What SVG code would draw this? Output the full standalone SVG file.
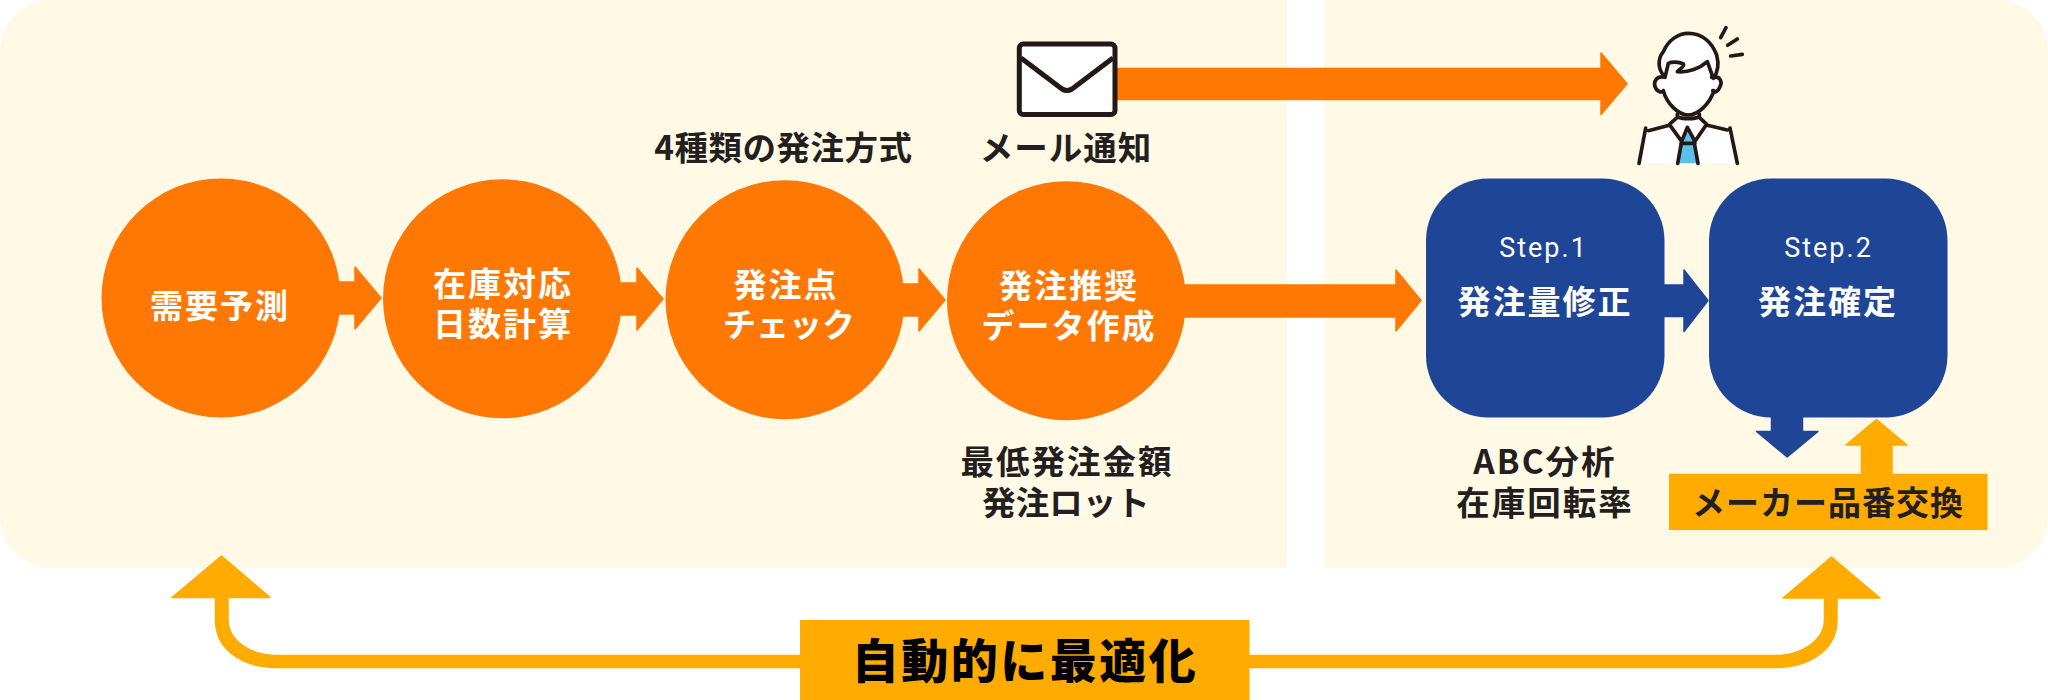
<svg xmlns="http://www.w3.org/2000/svg" width="2048" height="700" viewBox="0 0 2048 700">
<style>
text{font-family:"Noto Sans CJK JP","Noto Sans",sans-serif;font-weight:700;text-anchor:middle}
.w{fill:#fff;font-size:33px;letter-spacing:2px}
.d{fill:#231f20;font-size:33.500px;letter-spacing:2px}
.s{fill:#fff;font-family:Roboto,sans-serif;font-weight:400;font-size:27px;letter-spacing:2px}
.o{fill:#ff7804}.b{fill:#1f4696}.y{fill:#ffab00}
.conn path{stroke-width:1.5;stroke-linejoin:round}
.conn .o{stroke:#ff7804}.conn .b{stroke:#1f4696}.conn .y{stroke:#ffab00}
.ink{fill:none;stroke:#231815;stroke-width:11;stroke-linecap:round;stroke-linejoin:round}
</style>
<g id="panels">
<path fill="#fff9e6" d="M52,0H1287V568H52A52,52 0 0 1 0,516V52A52,52 0 0 1 52,0Z"/>
<path fill="#fff9e6" d="M1324,0H1996A52,52 0 0 1 2048,52V516A52,52 0 0 1 1996,568H1324Z"/>
</g>
<g id="connectors" class="conn">
<path class="o" d="M338,282H355V267L381,298L355,329V314H338Z"/>
<path class="o" d="M620,283H637V268L663,299L637,330V315H620Z"/>
<path class="o" d="M902,284H919V269L945,300L919,331V316H902Z"/>
<path class="o" d="M1180,285H1396V270L1421,300.500L1396,331V317H1180Z"/>
<path class="o" d="M1117,68.500H1601V53L1627,83.700L1601,114.500V99.500H1117Z"/>
<path class="b" d="M1660,285H1684V270L1708,300.500L1684,331.500V316.500H1660Z"/>
<path class="b" d="M1771.500,410H1802.500V431.500H1818L1787.200,457L1756.500,431.500H1771.500Z"/>
<path class="y" d="M1861.500,474V445H1846L1876.400,419.500L1907,445H1892V474Z"/>
<path class="y" d="M800,655.500H277C250,655.500 228,640 228,620V597.500H270L221.500,556L172,597.500H215.500V620C215.500,648 240,667.500 277,667.500H800Z"/>
<path class="y" d="M1249,655.500H1775C1802,655.500 1824.500,640 1824.500,620V598H1783L1831.500,557L1880,598H1837V620C1837,648 1812,667.500 1775,667.500H1249Z"/>
</g>
<g id="n-demand"><circle class="o" cx="221" cy="298" r="119.500"/><text class="w" x="220" y="318">需要予測</text></g>
<g id="n-stock"><circle class="o" cx="502.500" cy="298.800" r="119.500"/><text class="w" x="503" y="296">在庫対応</text><text class="w" x="503" y="336">日数計算</text></g>
<g id="n-check"><circle class="o" cx="785" cy="299.700" r="119.500"/><text class="w" x="786" y="297">発注点</text><text class="w" x="789" y="337" style="letter-spacing:0">チェック</text></g>
<g id="n-data"><circle class="o" cx="1066.500" cy="300.700" r="119.500"/><text class="w" x="1069" y="298">発注推奨</text><text class="w" x="1069" y="338">データ作成</text></g>
<g id="n-step1"><rect class="b" x="1426" y="178.500" width="238.500" height="239" rx="62"/><text class="s" x="1543.500" y="257">Step.1</text><text class="w" x="1545" y="314">発注量修正</text></g>
<g id="n-step2"><rect class="b" x="1709" y="178.500" width="238.500" height="239" rx="62"/><text class="s" x="1828.500" y="257">Step.2</text><text class="w" x="1828" y="314">発注確定</text></g>
<g id="n-maker"><rect class="y" x="1669" y="473.700" width="318.500" height="56.300"/><text class="d" x="1828" y="515" style="font-size:33px;letter-spacing:1px">メーカー品番交換</text></g>
<g id="n-auto"><rect class="y" x="800" y="620" width="449.500" height="80"/><text x="1025" y="678" fill="#000" style="font-size:47px;letter-spacing:2.500px;font-weight:900">自動的に最適化</text></g>
<g id="n-mail"><rect x="1019.300" y="44" width="95.700" height="70.500" rx="4" fill="#fff" stroke="#231815" stroke-width="5"/><path d="M1021,58L1062,89Q1067,92 1072,89L1113,58" fill="none" stroke="#231815" stroke-width="5" stroke-linejoin="round"/></g>
<g id="n-person" transform="translate(1600 0) scale(.33333)">
<path fill="#fff" d="M115,490L135,385L210,372L232,350H298L320,372L390,385L412,490Z"/>
<path fill="#5bc0eb" d="M262,385L245,420L235,490H292L282,420Z"/>
<path class="ink" d="M117,490L137,384M145,392L208,376M322,376L382,390M390,384L412,490M232,350V342M298,350V342M232,350C245,358 285,358 298,350M232,352L208,373L245,424L262,382L285,424L320,373L298,352M243,430H285M245,424L233,490M282,424L294,490"/>
<path fill="#fff" d="M190,155C205,120 235,100 265,100C305,100 335,125 350,165C358,195 355,215 345,240C368,235 368,265 350,275C330,320 295,345 265,345C235,345 200,320 182,275C160,265 160,235 185,232C170,205 175,175 190,155Z"/>
<path class="ink" d="M190,272C200,310 235,345 265,345C295,345 330,310 342,272M195,232C170,225 160,245 165,260C170,275 185,280 190,272M335,232C360,225 368,245 360,260C355,275 342,280 338,272M195,232C175,210 170,180 190,155C205,120 235,100 265,100C305,100 335,125 350,165C358,195 355,215 340,235L322,185C300,205 265,218 232,215C240,205 255,200 250,192C235,185 215,185 205,190Z"/>
<path class="ink" stroke-width="10" d="M362,113L378,83M383,136L412,117M392,168L427,163"/>
</g>
<g id="labels">
<text class="d" x="783.500" y="160" style="letter-spacing:.5px">4種類の発注方式</text>
<text class="d" x="1066" y="160" style="letter-spacing:1px">メール通知</text>
<text class="d" x="1067" y="474">最低発注金額</text>
<text class="d" x="1066" y="515" style="letter-spacing:0">発注ロット</text>
<text class="d" x="1545" y="474">ABC分析</text>
<text class="d" x="1545" y="515">在庫回転率</text>
</g>
</svg>
